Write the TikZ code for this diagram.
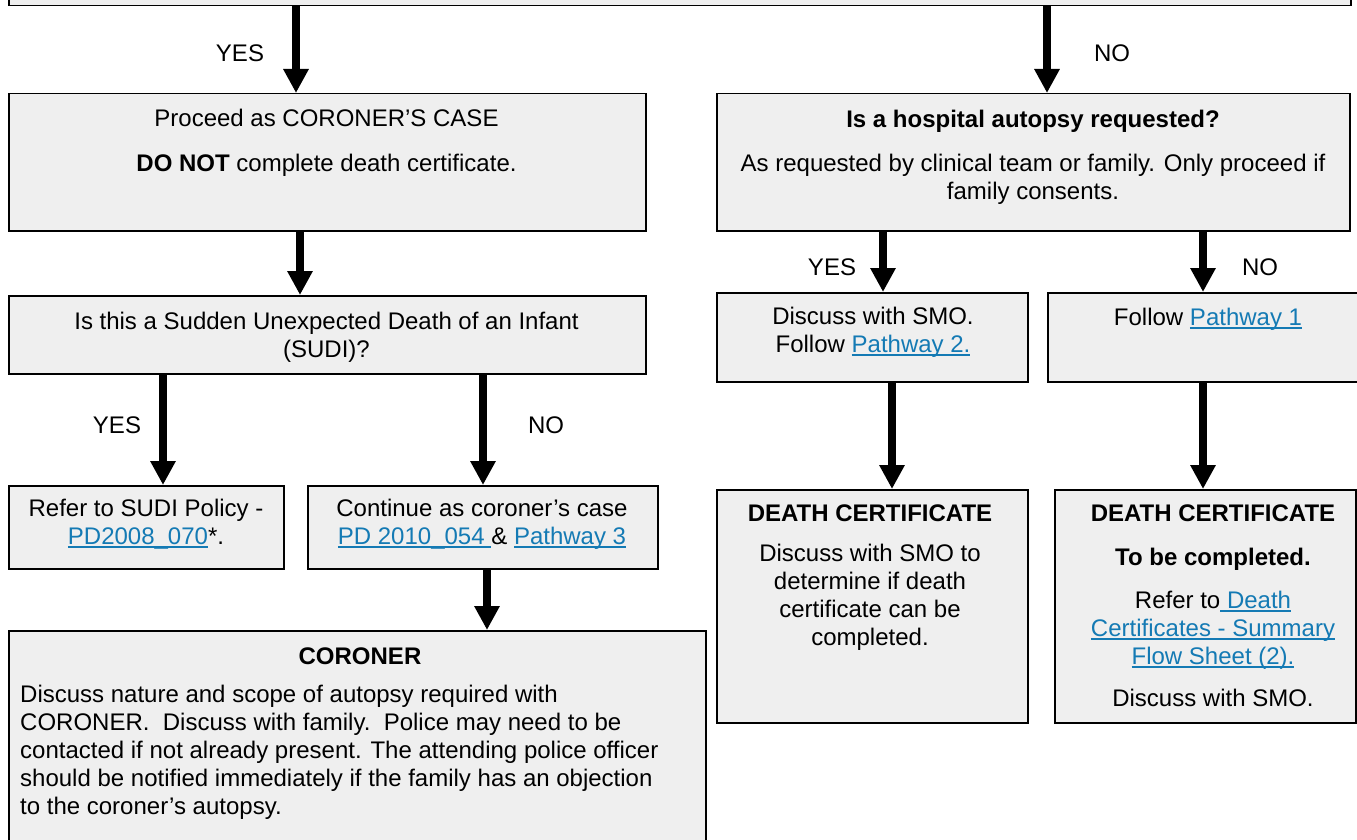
\documentclass[tikz,border=0pt]{standalone}
\usepackage{fontspec}
\setmainfont{Liberation Sans}
\usetikzlibrary{arrows.meta,positioning}
\definecolor{boxgray}{RGB}{239,239,239}
\definecolor{linkblue}{RGB}{20,122,180}
\newcommand{\lnk}[1]{{\color{linkblue}\setbox0\hbox{#1}\rlap{\rule[-3.5pt]{\wd0}{1.5pt}}\box0}}

\begin{document}
\begin{tikzpicture}[x=1pt,y=-1pt,
  font={\fontsize{24}{28}\selectfont},
  box/.style={draw=black,line width=1.5pt,fill=boxgray,anchor=north west,inner sep=0pt},
  txt/.style={anchor=north,align=center,inner sep=0pt},
  flow/.style={line width=8pt,-{Triangle[width=24pt,length=24pt]}},
  yn/.style={inner sep=0pt}]
  \useasboundingbox (0,0) rectangle (1357,840);
  \clip (0,0) rectangle (1357,840);
  % Boxes
  \node[box,minimum width=1342pt,minimum height=80pt] (top) at (8,-75) {};
  \node[box,minimum width=637pt,minimum height=137pt] (proc) at (8,93) {};
  \node[box,minimum width=633pt,minimum height=137pt] (auto) at (716,93) {};
  \node[box,minimum width=637pt,minimum height=78pt] (sudi) at (8,295) {};
  \node[box,minimum width=311pt,minimum height=89pt] (smo) at (716,292) {};
  \node[box,minimum width=320pt,minimum height=89pt] (pw1) at (1047,292) {};
  \node[box,minimum width=275pt,minimum height=83pt] (sidsp) at (8,485) {};
  \node[box,minimum width=350pt,minimum height=83pt] (cont) at (307,485) {};
  \node[box,minimum width=697pt,minimum height=230pt] (coro) at (8,630) {};
  \node[box,minimum width=311pt,minimum height=233pt] (dcA) at (716,489) {};
  \node[box,minimum width=301pt,minimum height=233pt] (dcB) at (1054,489) {};
  % Texts
  \node[txt] at (326.5,108.5) {Proceed as CORONER’S CASE\\[17pt]\textbf{DO NOT} complete death certificate.};
  \node[txt] at (1033,109.5) {\textbf{Is a hospital autopsy requested?}\\[16pt]As requested by clinical team or family. Only proceed if\\family consents.};
  \node[txt] at (326.5,311.5) {Is this a Sudden Unexpected Death of an Infant\\(SUDI)?};
  \node[txt] at (873,306.5) {Discuss with SMO.\\Follow \lnk{Pathway 2.}};
  \node[txt] at (1208,307.5) {Follow \lnk{Pathway 1}};
  \node[txt] at (146,498.5) {Refer to SUDI Policy -\\\lnk{PD2008\_070}*.};
  \node[txt] at (482,498.5) {Continue as coroner’s case\\\lnk{PD 2010\_054\ }\& \lnk{Pathway 3}};
  \node[txt] at (360,647.5) {\textbf{CORONER}};
  \node[txt,anchor=north west,align=left] at (20,684.5) {Discuss nature and scope of autopsy required with\\CORONER.\ \ Discuss with family.\ \ Police may need to be\\contacted if not already present. The attending police officer\\should be notified immediately if the family has an objection\\to the coroner’s autopsy.};
  \node[txt] at (870,504.5) {\textbf{DEATH CERTIFICATE}\\[12pt]Discuss with SMO to\\determine if death\\certificate can be\\completed.};
  \node[txt] at (1213,504.5) {\textbf{DEATH CERTIFICATE}\\[16pt]\textbf{To be completed.}\\[15pt]Refer to\lnk{\ Death}\\\lnk{Certificates - Summary}\\\lnk{Flow Sheet (2).}\\[14pt]Discuss with SMO.};
  % Connectors
  \draw[flow] (296,0 |- top.south) -- (296,0 |- proc.north);
  \draw[flow] (1047,0 |- top.south) -- (1047,0 |- auto.north);
  \draw[flow] (300,0 |- proc.south) -- (300,0 |- sudi.north);
  \draw[flow] (883,0 |- auto.south) -- (883,0 |- smo.north);
  \draw[flow] (1203,0 |- auto.south) -- (1203,0 |- pw1.north);
  \draw[flow] (163,0 |- sudi.south) -- (163,0 |- sidsp.north);
  \draw[flow] (483,0 |- sudi.south) -- (483,0 |- cont.north);
  \draw[flow] (487,0 |- cont.south) -- (487,0 |- coro.north);
  \draw[flow] (892,0 |- smo.south) -- (892,0 |- dcA.north);
  \draw[flow] (1203,0 |- pw1.south) -- (1203,0 |- dcB.north);
  % YES / NO labels
  \node[yn] (yes1) at (240,53) {YES};
  \node[yn] (no1) at (1112,53) {NO};
  \node[yn] (yes2) at (832,267) {YES};
  \node[yn] (no2) at (1260,267) {NO};
  \node[yn] (yes3) at (117,425) {YES};
  \node[yn] (no3) at (546,425) {NO};
\end{tikzpicture}
\end{document}
